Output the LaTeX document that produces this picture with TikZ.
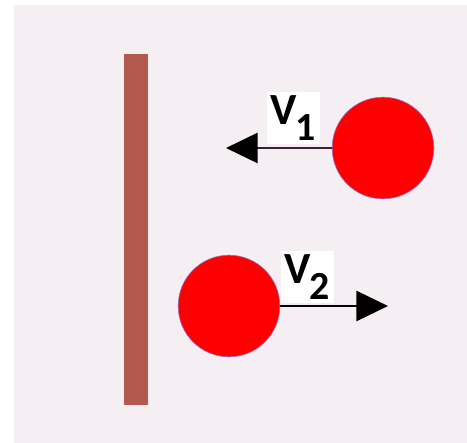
\documentclass[tikz,border=0pt]{standalone}
\usepackage{fontspec}
\setmainfont{Carlito}
\usetikzlibrary{arrows.meta}
\definecolor{paper}{RGB}{245,239,243}
\definecolor{wallred}{RGB}{178,90,78}
\definecolor{ballrim}{RGB}{150,110,200}
\definecolor{shaft}{RGB}{60,30,60}

\begin{document}
\begin{tikzpicture}[x=0.03cm,y=-0.03cm,
  ball/.style={circle,fill=red,draw=ballrim,line width=0.5pt,minimum size=3.05cm,inner sep=0pt},
  vec/.style={-{Triangle[length=0.95cm,width=0.9cm,color=black]},line width=2.4pt,draw=shaft},
  vlabel/.style={fill=white,inner sep=3pt,anchor=base west,
    font=\fontsize{38}{38}\selectfont\bfseries}]
\useasboundingbox (0,0) rectangle (467,443);
\fill[paper] (14,5) rectangle (467,443);
% wall
\node (wall) [fill=wallred,minimum width=0.72cm,minimum height=10.53cm,inner sep=0pt] at (136,229.5) {};
% balls
\node (b1) [ball] at (383,148) {};
\node (b2) [ball] at (229,306) {};
\coordinate (t1) at (226,148);
\coordinate (t2) at (388,306);
% velocities
\node (v1) [vlabel] at (267,124) {V\kern-1pt\raisebox{-14pt}{\fontsize{34}{34}\selectfont 1}};
\node (v2) [vlabel] at (281,283) {V\kern-1pt\raisebox{-14pt}{\fontsize{34}{34}\selectfont 2}};
\draw[vec] (b1.west) -- (t1);
\draw[vec,draw=black] (b2.east) -- (t2);
\end{tikzpicture}
\end{document}
